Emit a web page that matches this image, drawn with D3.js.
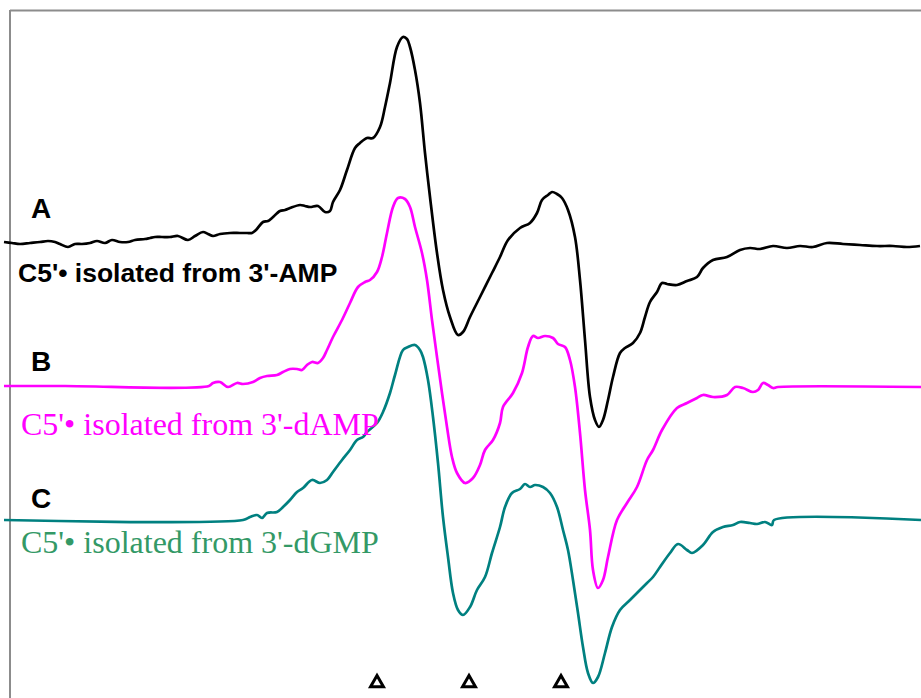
<!DOCTYPE html>
<html>
<head>
<meta charset="utf-8">
<script src="https://cdn.jsdelivr.net/npm/d3@7"></script>
<style>
  body { margin: 0; background: #fff; }
  svg { display: block; }
  .trace { fill: none; stroke-width: 2.7; stroke-linejoin: round; }
</style>
</head>
<body>
<div id="chart"></div>
<script>
const fieldA = [4,12,20,30,40,48,55,60,68,75,82,90,97,105,112,120,128,135,145,150,155,162,170,178,188,195,203,208,213,220,230,240,247,252,256,263,268,272,280,285,290,300,305,310,318,325,330,333,340,347,355,360,367,373,380,385,390,397,403,407,410,415,420,425,430,437,443,450,458,463,470,480,492,500,508,520,530,537,542,548,552,557,562,568,575,580,585,590,595,599,603,608,613,620,625,633,640,645,650,657,662,667,677,687,697,703,713,727,740,750,760,773,787,800,813,827,843,860,877,893,907,920];
const signalA = [0,-1,-2,-1,0,1,0,-2,-5,-2,-2,-1,1,-1,2,0,0,2,3,4,5,5,5,6,2,6,10,8,6,8,9,9,9,9,12,20,21,24,31,32,34,37,36,35,36,30,31,40,52,72,94,99,104,104,115,135,159,195,205,203,195,172,139,89,45,-11,-48,-75,-93,-90,-75,-55,-31,-15,2,14,19,29,42,47,50,48,44,32,5,-38,-98,-155,-178,-185,-178,-158,-135,-111,-106,-101,-91,-75,-60,-50,-41,-42,-43,-39,-35,-26,-18,-15,-8,-6,-7,-4,-6,-4,-5,-1,-2,-3,-4,-4,-5,-4];

const fieldB = [4,65,209,213,220,228,237,243,253,260,267,277,283,290,297,302,307,312,318,323,327,333,342,350,358,365,370,377,382,387,393,398,405,410,415,422,427,432,437,442,447,452,457,465,473,480,485,493,500,503,513,522,528,533,538,545,553,558,565,570,575,580,585,590,593,598,603,608,617,627,637,647,653,662,677,687,697,703,713,727,735,743,753,758,763,768,773,778,921];
const signalB = [0,0,0,3,4,-1,3,2,4,8,10,11,14,17,17,16,21,24,23,28,36,49,66,83,99,104,106,114,129,153,179,188,187,179,159,133,106,66,29,-7,-41,-71,-87,-97,-92,-79,-64,-54,-37,-21,-7,13,39,50,48,50,48,42,39,26,-1,-47,-104,-144,-184,-202,-194,-171,-134,-117,-101,-74,-64,-44,-22,-17,-12,-9,-11,-9,-1,-2,-6,-4,3,1,-2,-1,-1];

const fieldC = [4,243,250,257,262,267,277,283,290,297,303,312,320,327,333,342,350,357,363,367,377,383,390,395,403,408,415,420,423,428,433,438,443,448,453,458,463,470,477,485,492,500,505,512,520,525,530,535,543,550,557,563,568,573,578,583,588,593,598,605,612,620,630,637,647,653,660,670,678,687,692,703,713,723,733,740,750,757,765,772,774,921];
const signalC = [0,0,3,5,2,7,8,13,20,28,32,40,37,40,48,60,70,80,83,88,97,108,127,145,170,173,175,170,163,140,103,57,3,-37,-73,-90,-95,-87,-70,-57,-33,-7,13,27,31,36,33,35,33,27,13,-10,-30,-60,-93,-127,-153,-163,-157,-133,-107,-90,-80,-73,-63,-57,-47,-33,-24,-30,-33,-25,-12,-7,-5,-2,-3,-4,-2,-5,0,0];

const traceNames = ['A', 'B', 'C'];
const traceOffsets = [456, 312, 178];
const traceColors = ['#000000', '#ff00ff', '#008080'];
const captions = ["C5'\u2022 isolated from 3'-AMP", "C5'\u2022 isolated from 3'-dAMP", "C5'\u2022 isolated from 3'-dGMP"];
const markerFields = [377, 469, 561];

const width = 921, height = 698;

const svg = d3.select('#chart').append('svg')
    .attr('width', width)
    .attr('height', height);

const xScale = d3.scaleLinear().domain([0, 921]).range([0, width]);
const yScale = d3.scaleLinear().domain([0, 698]).range([height, 0]);

// frame (top and left edges only are visible)
svg.append('line').attr('x1', 10).attr('x2', width).attr('y1', 10.5).attr('y2', 10.5)
    .attr('stroke', '#8c8c8c').attr('stroke-width', 2);
svg.append('line').attr('x1', 10).attr('x2', 10).attr('y1', 10).attr('y2', height)
    .attr('stroke', '#8c8c8c').attr('stroke-width', 2);

const traces = [
    {name: traceNames[0], field: fieldA, signal: signalA, offset: traceOffsets[0], color: traceColors[0]},
    {name: traceNames[1], field: fieldB, signal: signalB, offset: traceOffsets[1], color: traceColors[1]},
    {name: traceNames[2], field: fieldC, signal: signalC, offset: traceOffsets[2], color: traceColors[2]}
];

traces.forEach(function(t) {
    const line = d3.line()
        .x(function(d, i) { return xScale(t.field[i]); })
        .y(function(d) { return yScale(d + t.offset); })
        .curve(d3.curveCatmullRom.alpha(0.5));
    svg.append('path')
        .attr('class', 'trace')
        .attr('d', line(t.signal))
        .attr('stroke', t.color);
});

// trace letters
svg.selectAll('.letter').data(traceNames).enter().append('text')
    .attr('class', 'letter')
    .attr('x', 31)
    .attr('y', function(d, i) { return [218, 371, 508][i]; })
    .style('font-family', 'Liberation Sans, Arial, sans-serif')
    .style('font-weight', 'bold')
    .style('font-size', '28px')
    .text(function(d) { return d; });

// captions
svg.append('text').attr('x', 18).attr('y', 282)
    .style('font-family', 'Liberation Sans, Arial, sans-serif')
    .style('font-weight', 'bold').style('font-size', '26.5px')
    .attr('fill', '#000').text(captions[0]);
svg.append('text').attr('x', 21).attr('y', 435)
    .style('font-family', 'Liberation Serif, Times New Roman, serif')
    .style('font-size', '32px')
    .attr('fill', '#ff00ff').text(captions[1]);
svg.append('text').attr('x', 21).attr('y', 553)
    .style('font-family', 'Liberation Serif, Times New Roman, serif')
    .style('font-size', '32px')
    .attr('fill', '#339966').text(captions[2]);

// field markers (open triangles)
const tri = d3.symbol().type(d3.symbolTriangle).size(72);
svg.selectAll('.marker').data(markerFields).enter().append('path')
    .attr('class', 'marker')
    .attr('d', tri)
    .attr('transform', function(d) { return 'translate(' + xScale(d) + ',683)'; })
    .attr('fill', 'none')
    .attr('stroke', '#000')
    .attr('stroke-width', 3)
    .attr('stroke-linejoin', 'miter');
</script>
</body>
</html>
